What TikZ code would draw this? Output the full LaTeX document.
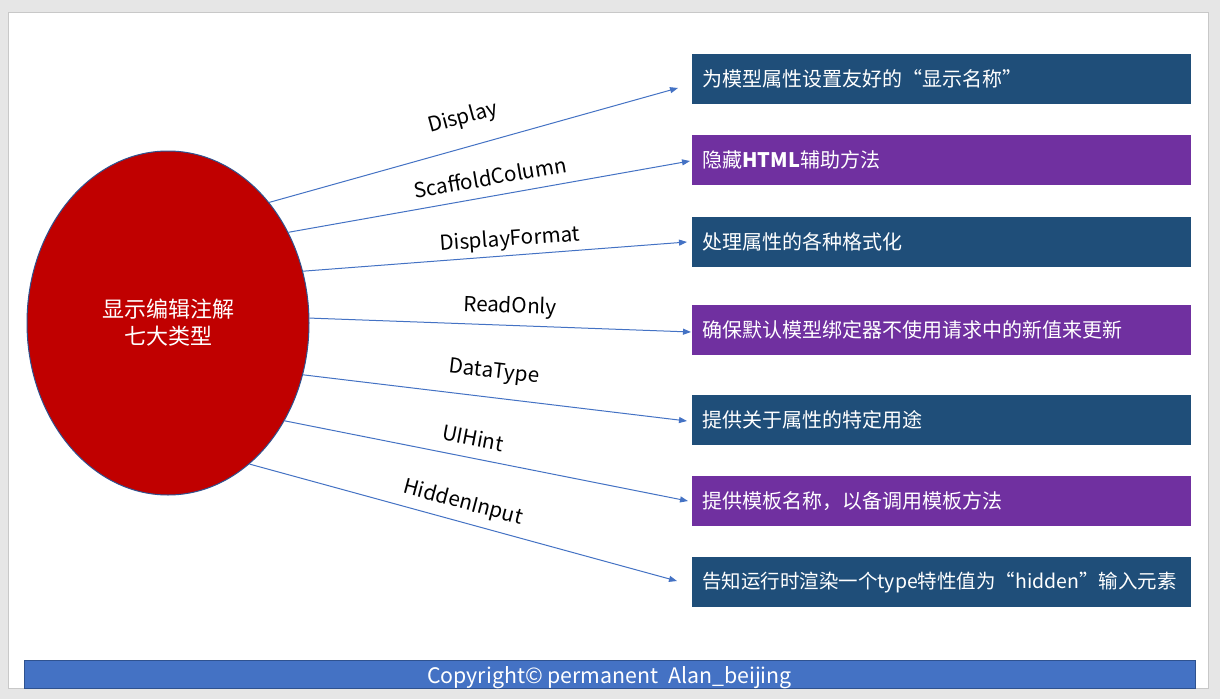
\documentclass[tikz,border=0pt]{standalone}
\usepackage{fontspec}
\newfontfamily\cjk{Noto Sans CJK SC}
\usetikzlibrary{arrows.meta,shapes.geometric}
\definecolor{pagebg}{HTML}{E6E6E6}
\definecolor{slideline}{HTML}{C8C8C8}
\definecolor{darkblue}{HTML}{1F4E79}
\definecolor{purp}{HTML}{7030A0}
\definecolor{ellred}{HTML}{C00000}
\definecolor{outl}{HTML}{2F528F}
\definecolor{conncol}{HTML}{4472C4}
\newlength{\boxtw}
\setlength{\boxtw}{359pt}
\tikzset{
  infobox/.style={rectangle, anchor=north west, minimum width=374.25pt, minimum height=37.5pt,
    inner xsep=6.5pt, inner ysep=0pt, text=white, font=\cjk\fontsize{15}{18}\selectfont},
  bluebox/.style={infobox, fill=darkblue},
  purpbox/.style={infobox, fill=purp},
  conn/.style={draw=conncol, line width=0.75pt, -{Triangle[length=6pt,width=4.5pt]}},
  lbl/.style={font=\cjk\fontsize{15.5}{18}\selectfont, text=black, inner sep=0pt}
}
\begin{document}
\begin{tikzpicture}[x=0.75pt,y=-0.75pt]
\useasboundingbox (0,0) rectangle (1220,699);
\fill[pagebg] (0,0) rectangle (1220,699);
\filldraw[fill=white, draw=slideline, line width=0.75pt] (8.5,12.5) rectangle (1208.5,688);

% centre ellipse
\node[ellipse, fill=ellred, draw=outl, line width=0.75pt, minimum width=211.5pt, minimum height=258pt,
  inner sep=0pt, text=white, align=center, font=\cjk\fontsize{16.5}{20.25}\selectfont]
  (e) at (168,323) {显示编辑注解\\七大类型};

% boxes
\node[bluebox] (b1) at (692,54) {\makebox[\boxtw][l]{为模型属性设置友好的“显示名称”}};
\node[purpbox] (b2) at (692,135) {\makebox[\boxtw][l]{隐藏{\bfseries HTML}辅助方法}};
\node[bluebox] (b3) at (692,217) {\makebox[\boxtw][l]{处理属性的各种格式化}};
\node[purpbox] (b4) at (692,305) {\makebox[\boxtw][l]{确保默认模型绑定器不使用请求中的新值来更新}};
\node[bluebox] (b5) at (692,395) {\makebox[\boxtw][l]{提供关于属性的特定用途}};
\node[purpbox] (b6) at (692,476) {\makebox[\boxtw][l]{提供模板名称，以备调用模板方法}};
\node[bluebox] (b7) at (692,557) {\makebox[\boxtw][l]{\fontsize{14.6}{18}\selectfont 告知运行时渲染一个type特性值为“hidden”输入元素}};

% arrow tips (in front of the boxes)
\coordinate (t1) at (678,88);
\coordinate (t2) at (690,161);
\coordinate (t3) at (687,242);
\coordinate (t4) at (691,332);
\coordinate (t5) at (687,421);
\coordinate (t6) at (688,501);
\coordinate (t7) at (677,581);

\draw[conn] (e.50.3) -- (t1);
\draw[conn] (e.37.8) -- (t2);
\draw[conn] (e.21.4) -- (t3);
\draw[conn] (e.2.5) -- (t4);
\draw[conn] (e.-21.5) -- (t5);
\draw[conn] (e.-40.3) -- (t6);
\draw[conn] (e.-60.3) -- (t7);

% connector labels
\node[lbl, rotate=15.35] (l1) at (463,118) {Display};
\node[lbl, rotate=9.74] (l2) at (490,177) {ScaffoldColumn};
\node[lbl, rotate=4.14] (l3) at (510,240) {DisplayFormat};
\node[lbl, rotate=-2.2] (l4) at (510,307) {ReadOnly};
\node[lbl, rotate=-6.57] (l5) at (494,373) {DataType};
\node[lbl, rotate=-10.87] (l6) at (473,438) {UIHint};
\node[lbl, rotate=-14.95] (l7) at (463,503) {HiddenInput};

% copyright bar
\node[rectangle, anchor=north west, fill=conncol, draw=outl, line width=0.75pt,
  minimum width=878.25pt, minimum height=21pt, inner sep=0pt] (bar) at (24,660) {};
\node[anchor=base, text=white, inner sep=0pt, font=\cjk\fontsize{16}{18}\selectfont]
  (copy) at (609.5,683) {Copyright© permanent\ \ Alan\_beijing};
\end{tikzpicture}
\end{document}
